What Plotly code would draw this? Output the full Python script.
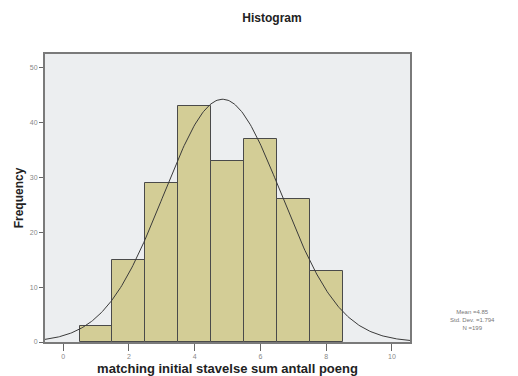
import numpy as np
import plotly.graph_objects as go

bin_centers = [1, 2, 3, 4, 5, 6, 7, 8]
frequencies = [3, 15, 29, 43, 33, 37, 26, 13]
mean_val = 4.85
std_val = 1.794
n_val = 199
x_ticks = [0, 2, 4, 6, 8, 10]
y_ticks = [0, 10, 20, 30, 40, 50]

xs = np.linspace(-0.55, 10.55, 300)
ys = n_val * 1.0 / (std_val * np.sqrt(2 * np.pi)) * np.exp(-0.5 * ((xs - mean_val) / std_val) ** 2)

fig = go.Figure()
fig.add_trace(go.Bar(
    x=bin_centers, y=frequencies, width=1,
    marker=dict(color="#d3cd96", line=dict(color="#4a4a4a", width=1)),
    showlegend=False,
))
fig.add_trace(go.Scatter(
    x=xs, y=ys, mode="lines",
    line=dict(color="#3a3a3a", width=1),
    showlegend=False,
))

fig.update_layout(
    width=518, height=376,
    margin=dict(l=45, r=108, t=54, b=34),
    paper_bgcolor="white",
    plot_bgcolor="#eceef0",
    font=dict(family="Liberation Sans, Arial, sans-serif"),
    bargap=0,
    title=dict(text="<b>Histogram</b>", x=272 / 518, xanchor="center",
               y=1 - 18 / 376, yanchor="middle",
               font=dict(size=12, color="#222222")),
    xaxis=dict(
        range=[-0.55, 10.55], tickvals=x_ticks, showgrid=False, zeroline=False,
        ticks="outside", ticklen=7, tickcolor="#666666",
        tickfont=dict(size=7, color="#888888"), automargin=False,
        showline=True, linecolor="#7a7a7a", linewidth=2, mirror=True,
        title=dict(text="<b>matching initial stavelse sum antall poeng</b>",
                   font=dict(size=13, color="#222222"), standoff=6),
    ),
    yaxis=dict(
        range=[0, 52.5], tickvals=y_ticks, showgrid=False, zeroline=False,
        ticks="outside", ticklen=4, tickcolor="#666666",
        tickfont=dict(size=7, color="#888888"), automargin=False,
        showline=True, linecolor="#7a7a7a", linewidth=2, mirror=True,
        title=dict(text="<b>Frequency</b>", font=dict(size=12, color="#222222"), standoff=4),
    ),
)

fig.add_annotation(
    text=f"Mean ={mean_val:.2f}<br>Std. Dev. ={std_val}<br>N ={n_val}",
    xref="paper", yref="paper",
    x=(472 - 45) / (410 - 45), y=(342 - 320) / (342 - 54),
    xanchor="center", yanchor="middle", showarrow=False,
    font=dict(size=6, color="#777777"), align="center",
)

fig.write_html("out.html")
